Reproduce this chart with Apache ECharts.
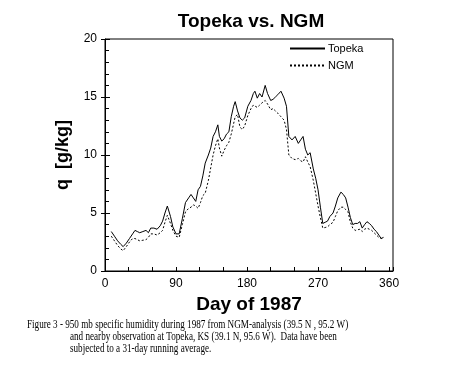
<!DOCTYPE html>
<html><head><meta charset="utf-8">
<script src="https://cdn.jsdelivr.net/npm/echarts@6/dist/echarts.min.js"></script>
<style>html,body{margin:0;padding:0;background:#fff}#c{width:450px;height:381px}</style>
</head><body><div id="c"></div>
<script>
var days = [8,12,16,20,23,27,31,35,38,41,44,48,52,55,58,62,66,70,73,76,79,83,86,90,94,98,102,106,109,112,115,118,121,124,127,131,134,137,140,143,145,148,151,154,157,160,163,165,168,171,174,177,181,185,188,190,193,196,199,203,206,210,213,216,219,223,227,230,233,237,241,245,248,251,254,257,260,264,267,270,273,276,279,282,285,289,292,295,299,302,305,308,311,314,317,320,323,326,329,332,335,338,341,344,347,350,353];
var topeka = [3.4,3.0,2.6,2.3,2.1,2.4,2.8,3.2,3.5,3.4,3.3,3.4,3.5,3.3,3.7,3.7,3.6,3.9,4.3,5.0,5.6,4.7,3.8,3.2,3.2,4.5,5.9,6.3,6.6,6.3,6.0,7.0,7.3,8.2,9.3,10.0,10.6,11.6,12.0,12.6,11.6,11.2,11.4,11.8,12.0,13.3,14.2,14.6,13.8,13.2,13.0,13.2,14.2,14.7,15.3,15.5,14.9,15.3,15.0,16.0,15.3,14.7,14.8,15.0,15.2,15.5,14.9,14.2,11.6,11.3,11.6,11.0,11.3,11.6,10.5,10.0,10.2,8.8,8.0,7.0,5.5,4.1,4.2,4.3,4.7,5.0,5.6,6.3,6.8,6.6,6.3,5.5,4.6,4.0,4.1,4.1,4.25,3.7,4.0,4.25,4.1,3.9,3.6,3.4,3.1,2.8,2.9];
var ngm = [3.0,2.6,2.2,1.9,1.75,2.1,2.5,2.8,2.8,2.7,2.6,2.65,2.7,2.9,3.2,3.2,3.1,3.3,3.5,4.2,4.8,4.1,3.5,3.0,2.9,4.0,5.1,5.4,5.5,5.7,5.6,5.4,5.9,6.5,6.7,7.8,8.9,10.0,10.8,11.4,10.6,9.9,10.4,10.8,11.1,11.8,12.7,13.3,13.5,12.4,12.2,12.5,13.4,14.0,14.3,14.2,14.1,14.3,14.5,14.7,14.4,13.9,14.0,13.8,13.6,13.3,13.0,12.2,10.0,9.7,9.6,9.7,9.5,9.4,9.85,9.4,9.0,7.8,6.7,5.6,4.6,3.7,3.75,3.8,4.0,4.2,4.7,5.2,5.5,5.5,5.3,5.1,4.2,3.7,3.5,3.55,3.6,3.4,3.6,3.7,3.6,3.5,3.3,3.1,2.9,2.8,2.9];
var xTicks = [0,90,180,270,360];
var yTicks = [0,5,10,15,20];
var caption = [
  'Figure 3 - 950 mb specific humidity during 1987 from NGM-analysis (39.5 N , 95.2 W)',
  'and nearby observation at Topeka, KS (39.1 N, 95.6 W).  Data have been',
  'subjected to a 31-day running average.'
];

function pairs(v){ return days.map(function(d,i){ return [d, v[i]]; }); }
var chart = echarts.init(document.getElementById('c'), null, {renderer:'canvas'});
var sans = 'Liberation Sans, Arial, sans-serif';
var serif = 'Liberation Serif, Times New Roman, serif';
chart.setOption({
  animation:false,
  backgroundColor:'#fff',
  title:{text:'Topeka vs. NGM', left:246, textAlign:'center', top:7,
    textStyle:{fontFamily:sans, fontWeight:'bold', fontSize:19, color:'#000'}},
  grid:{left:105, top:39, right:57, bottom:110, show:true, borderColor:'#000', borderWidth:1, backgroundColor:'transparent'},
  legend:{orient:'vertical', left:284, top:38, itemWidth:35, itemHeight:8, itemGap:6,
    itemStyle:{opacity:0},
    textStyle:{fontFamily:sans, fontSize:11, color:'#000', padding:[0,0,0,-2]},
    data:['Topeka','NGM']},
  xAxis:{type:'value', min:0, max:365, interval:90,
    name:'Day of 1987', nameLocation:'middle', nameGap:20,
    nameTextStyle:{fontFamily:sans, fontWeight:'bold', fontSize:19, color:'#000'},
    axisLine:{show:true, lineStyle:{color:'#000', width:1}},
    axisTick:{show:true, inside:true, length:4, lineStyle:{color:'#000'}},
    minorTick:{show:true, splitNumber:3, length:4, lineStyle:{color:'#000'}},
    splitLine:{show:false},
    axisLabel:{fontFamily:sans, fontSize:12, color:'#000', margin:7,
      formatter:function(v){ return xTicks.indexOf(v)>=0 ? String(v) : ''; }}},
  yAxis:[{type:'value', min:0, max:20, interval:5,
    name:'q  [g/kg]', nameLocation:'middle', nameGap:33, nameRotate:90,
    nameTextStyle:{fontFamily:sans, fontWeight:'bold', fontSize:18, color:'#000'},
    axisLine:{show:true, lineStyle:{color:'#000', width:1}},
    axisTick:{show:true, inside:true, length:5, lineStyle:{color:'#000'}},
    minorTick:{show:true, splitNumber:5, length:4, lineStyle:{color:'#000'}},
    splitLine:{show:false},
    axisLabel:{fontFamily:sans, fontSize:12, color:'#000', margin:8,
      formatter:function(v){ return yTicks.indexOf(v)>=0 ? String(v) : ''; }}},
   {type:'value', min:0, max:20, interval:5, position:'left',
    axisLine:{show:false}, axisLabel:{show:false}, splitLine:{show:false},
    axisTick:{show:true, inside:false, length:4, lineStyle:{color:'#000'}}}],
  series:[
    {name:'Topeka', type:'line', data:pairs(topeka), symbol:'none', smooth:false,
      lineStyle:{color:'#000', width:1}, itemStyle:{color:'#000'}},
    {name:'NGM', type:'line', data:pairs(ngm), symbol:'none', smooth:false,
      lineStyle:{color:'#000', width:1, type:[2,2]}, itemStyle:{color:'#000'}}
  ],
  graphic:[
    {type:'text', x:27, y:319, scaleX:0.76, style:{text:caption[0], font:'12px '+serif, fill:'#000'}},
    {type:'text', x:70, y:331, scaleX:0.76, style:{text:caption[1], font:'12px '+serif, fill:'#000'}},
    {type:'text', x:70, y:343, scaleX:0.76, style:{text:caption[2], font:'12px '+serif, fill:'#000'}}
  ]
});
</script></body></html>
